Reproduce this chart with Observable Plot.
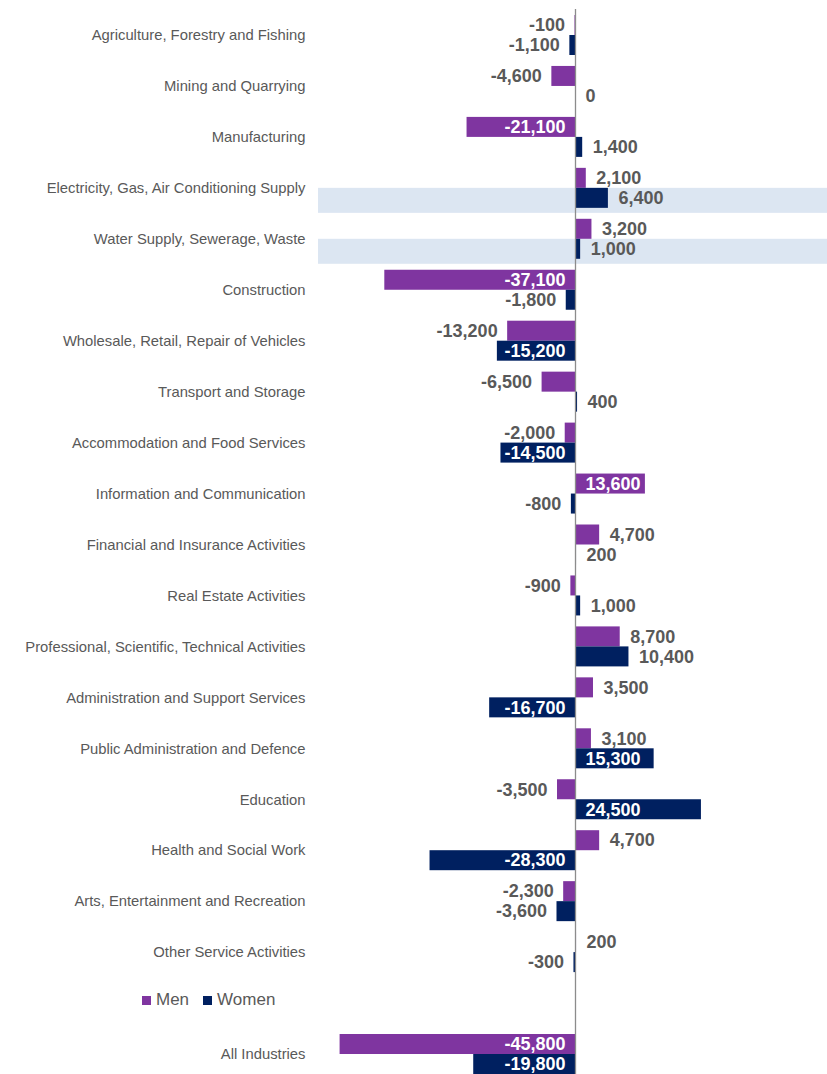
<!DOCTYPE html>
<html>
<head>
<meta charset="utf-8">
<script src="https://cdn.jsdelivr.net/npm/d3@7"></script>
<script src="https://cdn.jsdelivr.net/npm/@observablehq/plot@0.6"></script>
<style>
  html, body { margin: 0; padding: 0; background: #fff; }
  #wrap { position: relative; width: 827px; height: 1074px; overflow: hidden; font-family: "Liberation Sans", Arial, sans-serif; }
  #legend { position: absolute; left: 142px; top: 990px; display: flex; align-items: center; font-size: 17px; color: #595959; }
  #legend .sw { display: inline-block; width: 9px; height: 9px; margin-right: 5px; }
  #legend .item { display: flex; align-items: center; margin-right: 14px; }
</style>
</head>
<body>
<div id="wrap">
  <div id="chart"></div>
  <div id="legend"></div>
</div>
<script>
const categories = [
  "Agriculture, Forestry and Fishing",
  "Mining and Quarrying",
  "Manufacturing",
  "Electricity, Gas, Air Conditioning Supply",
  "Water Supply, Sewerage, Waste",
  "Construction",
  "Wholesale, Retail, Repair of Vehicles",
  "Transport and Storage",
  "Accommodation and Food Services",
  "Information and Communication",
  "Financial and Insurance Activities",
  "Real Estate Activities",
  "Professional, Scientific, Technical Activities",
  "Administration and Support Services",
  "Public Administration and Defence",
  "Education",
  "Health and Social Work",
  "Arts, Entertainment and Recreation",
  "Other Service Activities",
  "All Industries"
];
const men = [-100, -4600, -21100, 2100, 3200, -37100, -13200, -6500, -2000, 13600, 4700, -900, 8700, 3500, 3100, -3500, 4700, -2300, 200, -45800];
const women = [-1100, 0, 1400, 6400, 1000, -1800, -15200, 400, -14500, -800, 200, 1000, 10400, -16700, 15300, 24500, -28300, -3600, -300, -19800];
const highlighted = ["Electricity, Gas, Air Conditioning Supply", "Water Supply, Sewerage, Waste"];
const series = ["Men", "Women"];
const colors = {Men: "#7F35A0", Women: "#002060"};

const spacer = " ";
const yDomain = [...categories.slice(0, -1), spacer, categories[categories.length - 1]];

const rows = [];
categories.forEach((c, i) => {
  rows.push({cat: c, sex: "Men", value: men[i]});
  rows.push({cat: c, sex: "Women", value: women[i]});
});

const fmt = d3.formatLocale({decimal: ".", thousands: ",", grouping: [3], currency: ["", ""], minus: "-"}).format(",");

const W = 827, H = 1074, mTop = 15, mBottom = 0, mLeft = 318;
const padInner = 0.215;
const step = (H - mTop - mBottom) / (yDomain.length - padInner);
const bw = step * (1 - padInner);
const half = bw / 2;
const xDomain = [-50000, 50000];
const insideThreshold = 13500;

const marks = [];
// highlight bands
marks.push(Plot.barX(highlighted, {
  x1: () => xDomain[0], x2: () => xDomain[1], y: d => d,
  fill: "#DCE6F2", insetTop: half, insetBottom: -5
}));
// bars
for (const s of series) {
  marks.push(Plot.barX(rows.filter(r => r.sex === s), {
    x: "value", y: "cat", fill: colors[s],
    insetTop: s === "Men" ? 0 : half,
    insetBottom: s === "Men" ? half : 0
  }));
}
// zero line
marks.push(Plot.ruleX([0], {stroke: "#8C8C8C", strokeWidth: 1.3, insetTop: -6}));
// labels
for (const s of series) {
  const dy = s === "Men" ? -half / 2 : half / 2;
  const data = rows.filter(r => r.sex === s);
  const common = {y: "cat", text: d => fmt(d.value), dy, fontSize: 18, fontWeight: "bold"};
  marks.push(Plot.text(data.filter(d => Math.abs(d.value) < insideThreshold && d.value >= 0),
    {...common, x: "value", textAnchor: "start", dx: 10, fill: "#595959"}));
  marks.push(Plot.text(data.filter(d => Math.abs(d.value) < insideThreshold && d.value < 0),
    {...common, x: "value", textAnchor: "end", dx: -10, fill: "#595959"}));
  marks.push(Plot.text(data.filter(d => Math.abs(d.value) >= insideThreshold && d.value >= 0),
    {...common, x: () => 0, textAnchor: "start", dx: 10, fill: "white"}));
  marks.push(Plot.text(data.filter(d => Math.abs(d.value) >= insideThreshold && d.value < 0),
    {...common, x: () => 0, textAnchor: "end", dx: -10, fill: "white"}));
}
marks.push(Plot.axisY({tickSize: 0, tickPadding: 13, fontSize: 14.8, label: null}));

const chart = Plot.plot({
  width: W,
  height: H,
  marginTop: mTop,
  marginBottom: mBottom,
  marginLeft: mLeft,
  marginRight: 0,
  x: {domain: xDomain, range: [mLeft, 832], axis: null},
  y: {domain: yDomain, paddingInner: padInner, paddingOuter: 0, round: false, label: null},
  style: {fontFamily: "'Liberation Sans', Arial, sans-serif", color: "#595959", background: "white"},
  marks
});
document.getElementById("chart").appendChild(chart);

const legend = document.getElementById("legend");
for (const s of series) {
  const item = document.createElement("div");
  item.className = "item";
  const sw = document.createElement("span");
  sw.className = "sw";
  sw.style.background = colors[s];
  const t = document.createElement("span");
  t.textContent = s;
  item.appendChild(sw);
  item.appendChild(t);
  legend.appendChild(item);
}
</script>
</body>
</html>
